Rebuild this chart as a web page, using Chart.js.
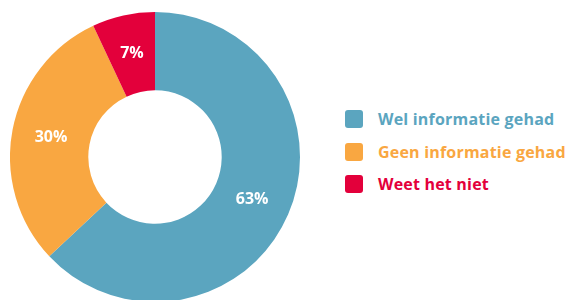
<!DOCTYPE html>
<html>
<head>
  <title>Informatie gehad</title>
  <script src="https://cdn.jsdelivr.net/npm/chart.js"></script>
  <style>
    html, body { margin: 0; padding: 0; background: #fff; width: 573px; height: 300px; overflow: hidden; }
    #wrap { position: absolute; left: 10px; top: 12px; width: 290px; height: 290px; }
    #legend { position: absolute; left: 345px; top: 103px; font-family: "Open Sans", sans-serif; font-weight: 700; font-size: 16px; letter-spacing: 0.2px; }
    .item { display: flex; align-items: center; height: 32.5px; }
    .box { width: 18px; height: 18px; border-radius: 3px; margin-right: 15px; }
  </style>
</head>
<body>
  <div id="wrap">
    <canvas id="donutChart"></canvas>
  </div>
  <div id="legend"></div>

  <script>
    const categories = ['Wel informatie gehad', 'Geen informatie gehad', 'Weet het niet'];
    const percentages = [63, 30, 7];
    const colors = ['#5ba5bf', '#f9a741', '#e3003b'];

    // white percentage labels inside the ring
    const sliceLabels = {
      id: 'sliceLabels',
      afterDatasetsDraw(chart) {
        const ctx = chart.ctx;
        const meta = chart.getDatasetMeta(0);
        ctx.save();
        ctx.fillStyle = '#fff';
        ctx.font = 'bold 16px "Open Sans", sans-serif';
        ctx.textAlign = 'center';
        ctx.textBaseline = 'middle';
        meta.data.forEach((arc, i) => {
          const p = arc.tooltipPosition();
          ctx.fillText(percentages[i] + '%', p.x, p.y);
        });
        ctx.restore();
      }
    };

    new Chart(document.getElementById('donutChart'), {
      type: 'doughnut',
      data: {
        labels: categories,
        datasets: [{
          data: percentages,
          backgroundColor: colors,
          borderWidth: 0
        }]
      },
      options: {
        responsive: true,
        maintainAspectRatio: false,
        animation: false,
        cutout: '46%',
        layout: { padding: 0 },
        plugins: {
          legend: { display: false },
          tooltip: { enabled: false }
        }
      },
      plugins: [sliceLabels]
    });

    const legend = document.getElementById('legend');
    categories.forEach((name, i) => {
      const row = document.createElement('div');
      row.className = 'item';
      row.innerHTML = '<div class="box" style="background:' + colors[i] + '"></div>' +
        '<span style="color:' + colors[i] + '">' + name + '</span>';
      legend.appendChild(row);
    });
  </script>
</body>
</html>
